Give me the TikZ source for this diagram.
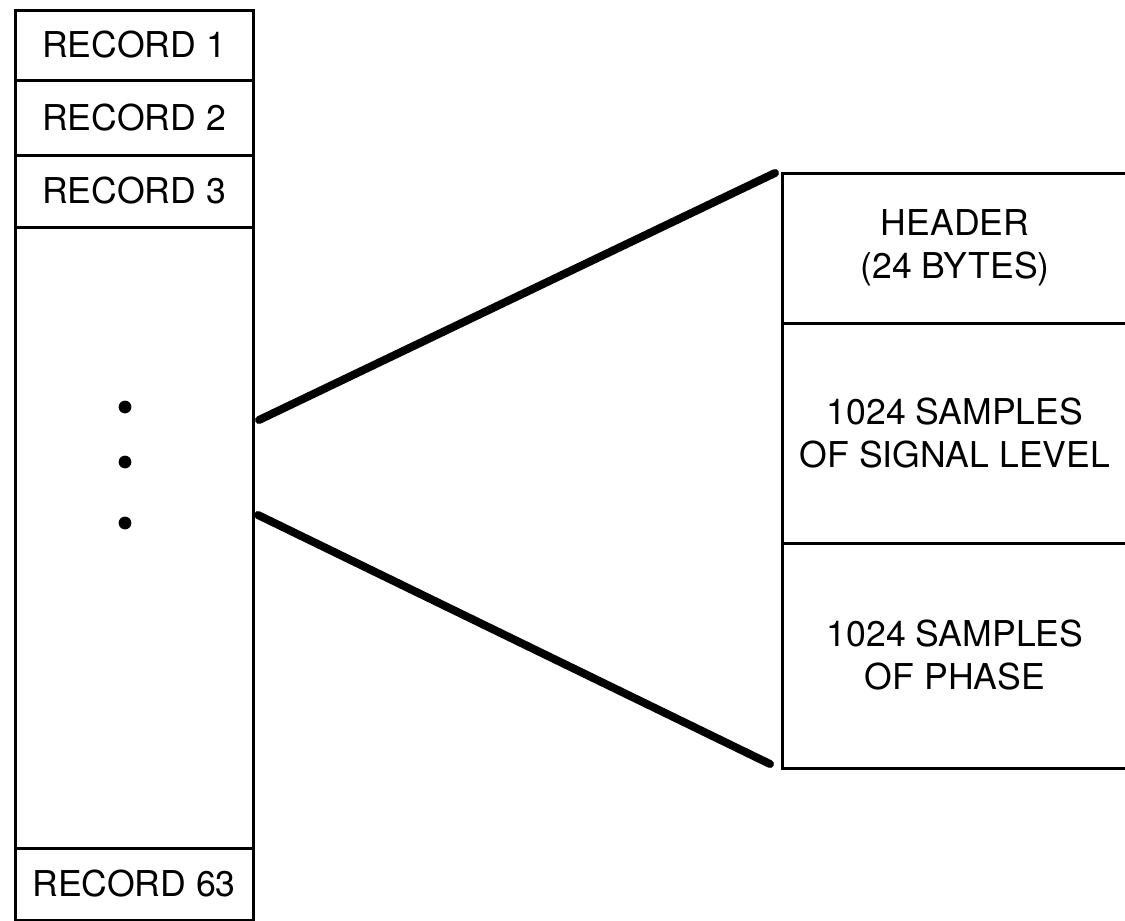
\documentclass[tikz,border=0pt]{standalone}
\usepackage{fontspec}
\setmainfont{TeX Gyre Heros}
\usetikzlibrary{positioning}

\begin{document}
\begin{tikzpicture}[
  x=0.5pt, y=-0.5pt,
  font=\fontsize{17.8}{21.5}\selectfont,
  node distance=0pt,
  rec/.style={draw, line width=1.5pt, outer sep=0pt, inner sep=0pt,
              minimum width=119pt, minimum height=#1, align=center},
  fld/.style={draw, line width=1.5pt, outer sep=0pt, inner sep=0pt,
              minimum width=173pt, minimum height=#1, align=center},
  fan/.style={line width=4pt, line cap=round},
]
\clip (0,0) rectangle (1125,921);

%% ===== LEFT: FILE OF RECORDS =====
\node[rec=35pt] (rec1) at (134,45) {RECORD 1};
\node[rec=37.5pt, below=of rec1] (rec2) {RECORD 2};
\node[rec=36pt, below=of rec2] (rec3) {RECORD 3};
\node[rec=310.5pt, below=of rec3] (more) {};
\node[rec=36pt, below=of more] (rec63) {RECORD 63};

\foreach \y in {407,462,523}
  \fill (125,\y) circle (3.2pt);

%% ===== RIGHT: ONE RECORD =====
\node[fld=75pt] (header) at (955,248) {HEADER\\(24 BYTES)};
\node[fld=110pt, below=of header] (signal) {1024 SAMPLES\\OF SIGNAL LEVEL};
\node[fld=112.5pt, below=of signal] (phase) {1024 SAMPLES\\OF PHASE};

%% ===== EXPANSION LINES =====
\coordinate (fantop) at (259,420);
\coordinate (fanbot) at (258,515);
\draw[fan] (fantop) -- ([xshift=-3.5pt]header.north west);
\draw[fan] (fanbot) -- ([xshift=-6pt,yshift=2pt]phase.south west);

\end{tikzpicture}
\end{document}
